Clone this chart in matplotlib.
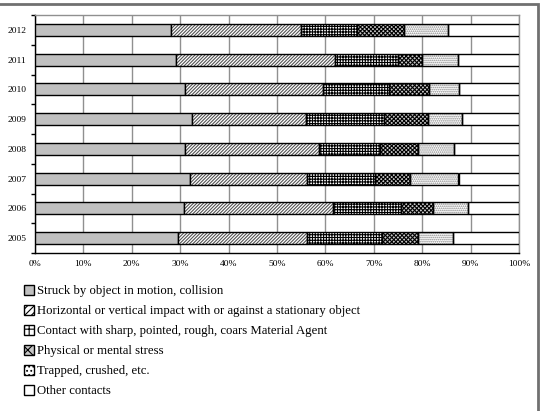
import matplotlib
matplotlib.use("Agg")
import matplotlib.pyplot as plt
from matplotlib.patches import Rectangle, Patch
import numpy as np

plt.rcParams['font.family'] = ['Liberation Serif', 'DejaVu Serif']
plt.rcParams['hatch.linewidth'] = 0.8

years = ['2005', '2006', '2007', '2008', '2009', '2010', '2011', '2012']
series_names = [
    'Struck by object in motion, collision',
    'Horizontal or vertical impact with or against a stationary object',
    'Contact with sharp, pointed, rough, coars Material Agent',
    'Physical or mental stress',
    'Trapped, crushed, etc.',
    'Other contacts',
]
# shares (%) per year 2005..2012
struck  = [29.5, 30.8, 32.1, 31.0, 32.4, 31.0, 29.2, 28.0]
impact  = [26.6, 30.8, 24.0, 27.6, 23.6, 28.6, 32.7, 26.9]
sharp   = [15.5, 14.0, 14.1, 12.7, 16.1, 13.6, 13.0, 11.6]
stress  = [ 7.5,  6.6,  7.3,  7.8,  9.2,  8.3,  5.1,  9.7]
trapped = [ 7.3,  7.3, 10.0,  7.5,  6.9,  6.2,  7.3,  9.2]
other   = [13.6, 10.5, 12.5, 13.4, 11.8, 12.3, 12.7, 14.6]

values = [struck, impact, sharp, stress, trapped, other]
faces = ['#c0c0c0', 'white', 'white', '#c8c8c8', 'white', 'white']
hatches = [None, '//////////', '++++++', 'xxxxxxxx', '........', None]
legend_hatches = [None, '/////', '++', 'xxx', '....', None]
hatch_colors = [None, '#555555', 'black', 'black', '#888888', None]

fig = plt.figure(figsize=(5.42, 4.11), dpi=100)
ax = fig.add_axes([35/542, 1-253/411, 484/542, 238/411])

y = np.arange(len(years))
left = np.zeros(len(years))
for name, vals, fc, h, hc in zip(series_names, values, faces, hatches, hatch_colors):
    vals = np.array(vals, dtype=float)
    if h is not None:
        ax.barh(y, vals, left=left, height=0.4, color=fc, hatch=h,
                edgecolor=hc, linewidth=0, zorder=3)
        ax.barh(y, vals, left=left, height=0.4, fill=False,
                edgecolor='black', linewidth=1.0, zorder=4)
    else:
        ax.barh(y, vals, left=left, height=0.4, color=fc,
                edgecolor='black', linewidth=1.0, zorder=3)
    left += vals

leg_handles = [Patch(facecolor=fc, edgecolor='black', hatch=lh, linewidth=1.0)
               for fc, lh in zip(faces, legend_hatches)]

ax.set_xlim(0, 100)
ax.set_ylim(-0.5, len(years) - 0.5)
ax.set_xticks(np.arange(0, 101, 10))
ax.set_xticklabels([f'{v}%' for v in range(0, 101, 10)], fontsize=6.8)
ax.set_yticks(y)
ax.set_yticklabels(years, fontsize=6.8)
ax.set_yticks(np.arange(-0.5, len(years), 1.0), minor=True)
ax.tick_params(axis='y', which='major', length=0, pad=6)
ax.tick_params(axis='y', which='minor', length=3, width=1, direction='out', color='black')
ax.tick_params(axis='x', which='major', length=0, pad=5)
ax.xaxis.grid(True, color='#909090', linewidth=1.0, zorder=0)
ax.set_axisbelow(True)
for s in ['top', 'right']:
    ax.spines[s].set_color('#909090')
    ax.spines[s].set_linewidth(1.0)
for s in ['left', 'bottom']:
    ax.spines[s].set_color('black')
    ax.spines[s].set_linewidth(1.0)

fig.legend(handles=leg_handles, labels=series_names, loc='upper left',
           bbox_to_anchor=(24/542, 1-285/411), frameon=False, fontsize=9.2,
           handlelength=0.8, handleheight=0.8, handletextpad=0.2,
           labelspacing=0.6, borderaxespad=0, borderpad=0)

# outer frame (top and right visible)
fig.patches.append(Rectangle((-0.02, -0.05), 1 - 4/542 + 0.02, 1 - 4.5/411 + 0.05,
                             transform=fig.transFigure, fill=False,
                             edgecolor='#707070', linewidth=2))

fig.savefig('out.png', dpi=100)
